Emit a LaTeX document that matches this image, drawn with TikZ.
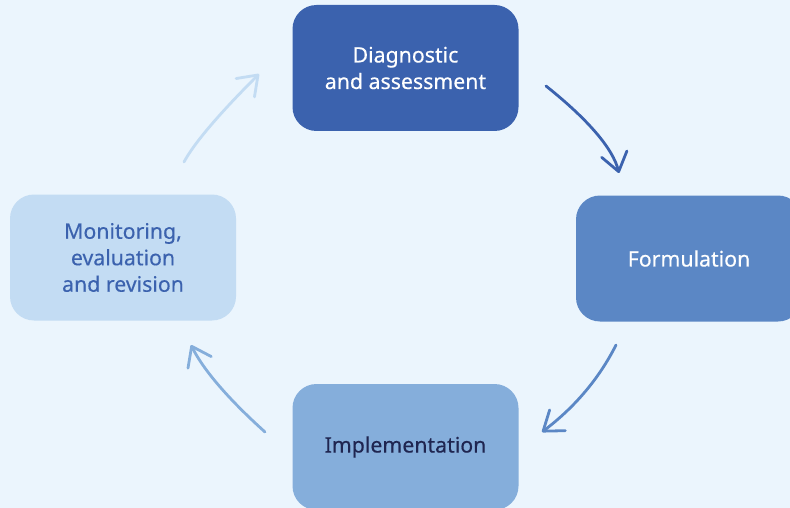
\documentclass[tikz,border=0pt]{standalone}
\usepackage{fontspec}
\setmainfont{Noto Sans}[FakeBold=0.35]
\usetikzlibrary{arrows.meta}
\definecolor{bg}{HTML}{EBF5FD}
\definecolor{cA}{HTML}{3B62AE}
\definecolor{cB}{HTML}{5B87C5}
\definecolor{cC}{HTML}{85AEDB}
\definecolor{cD}{HTML}{C3DCF3}
\definecolor{txtdark}{HTML}{1F2550}
\tikzset{
  stage/.style={rectangle, rounded corners=24pt, minimum width=226pt, minimum height=126pt,
    align=center, inner sep=0pt, font=\fontsize{21.3}{26.5}\selectfont\bfseries},
  cyc/.style={line width=2.8pt, line cap=round, -{Straight Barb[length=18pt,width=26pt,line width=2.8pt,line cap=round,line join=round]}}
}
\begin{document}
\begin{tikzpicture}[x=1pt,y=-1pt]
\useasboundingbox (0,0) rectangle (790,508);
\clip (0,0) rectangle (790,508);
\fill[bg] (0,0) rectangle (790,508);
\node[stage, fill=cA, text=white] (diag) at (405.5,68) {Diagnostic\\and assessment};
\node[stage, fill=cB, text=white] (form) at (689,258.5) {Formulation};
\node[stage, fill=cC, text=txtdark] (impl) at (405.5,447) {Implementation};
\node[stage, fill=cD, text=cA] (moni) at (123,257.5) {Monitoring,\\evaluation\\and revision};
\coordinate (a1s) at (546,86);  \coordinate (a1e) at (619,173);
\coordinate (a2s) at (616,345); \coordinate (a2e) at (542,432);
\coordinate (a3s) at (265,432); \coordinate (a3e) at (191,345);
\coordinate (a4s) at (184,162); \coordinate (a4e) at (259,74);
\draw[cyc, cA] (a1s) .. controls (588.7,120) and (613,149) .. (a1e);
\draw[cyc, cB] (a2s) .. controls (599.3,378.3) and (574.7,407.3) .. (a2e);
\draw[cyc, cC] (a3s) .. controls (228,398.7) and (203.3,369.7) .. (a3e);
\draw[cyc, cD] (a4s) .. controls (194,143.3) and (219,114) .. (a4e);
\end{tikzpicture}
\end{document}
